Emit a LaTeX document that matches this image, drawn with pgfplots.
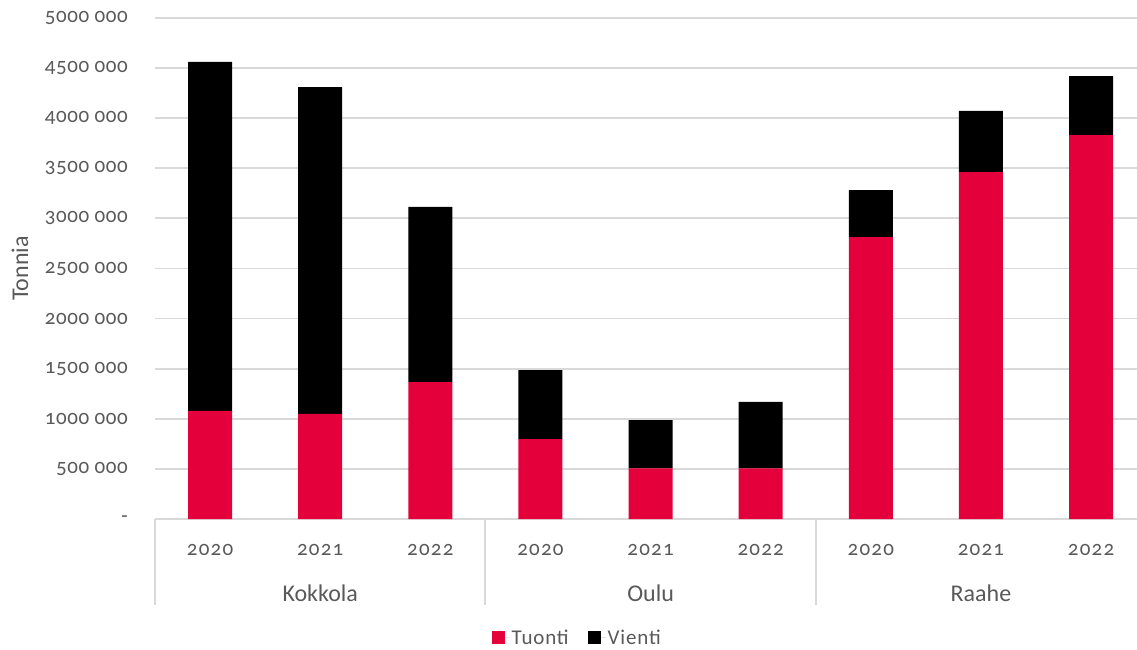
\documentclass[border=0pt]{standalone}
\usepackage{fontspec}
\setmainfont{Carlito}[Numbers=OldStyle]
\usepackage{pgfplots}
\pgfplotsset{compat=1.18}
\definecolor{redbar}{HTML}{E4003A}
\definecolor{txt}{HTML}{595959}
\definecolor{gridgray}{HTML}{D9D9D9}
\begin{document}
\begin{tikzpicture}
\path[use as bounding box] (-155pt,-131pt) rectangle (982pt,519pt);
\begin{axis}[
  at={(0,0)}, anchor=south west,
  scale only axis,
  width=982pt, height=501pt,
  ybar stacked, bar width=44pt,
  xmin=-0.5, xmax=8.417,
  ymin=0, ymax=5000000,
  axis line style={draw=none},
  major tick length=0pt,
  xmajorgrids=false,
  ymajorgrids=true,
  y grid style={draw=gridgray, line width=1.8pt},
  scaled y ticks=false,
  ytick={0,500000,1000000,1500000,2000000,2500000,3000000,3500000,4000000,4500000,5000000},
  yticklabels={-,500 000,1000 000,1500 000,2000 000,2500 000,3000 000,3500 000,4000 000,4500 000,5000 000},
  yticklabel style={anchor=east, inner sep=0pt, xshift=-27pt, font=\fontsize{21}{25}\selectfont\addfontfeatures{LetterSpace=3}, text=txt},
  xtick={0,...,8},
  xticklabels={2020,2021,2022,2020,2021,2022,2020,2021,2022},
  xticklabel style={anchor=center, inner sep=0pt, yshift=-34pt, font=\fontsize{21}{25}\selectfont\addfontfeatures{LetterSpace=6}, text=txt, text height=1.2ex, text depth=0pt},
  clip=false,
  legend columns=2,
  legend style={draw=none, at={(0.4300,-0.2375)}, anchor=center, font=\fontsize{21}{25}\selectfont\addfontfeatures{LetterSpace=4}, text=txt,
    /tikz/every even column/.append style={column sep=17pt}},
  legend image code/.code={\fill[#1] (0pt,-6.5pt) rectangle (13pt,6.5pt); \path (0pt,0pt) -- (18pt,0pt);},
]
\addplot[fill=redbar, draw=none] coordinates {(0,1078000) (1,1048000) (2,1367000) (3,798000) (4,505000) (5,505000) (6,2814000) (7,3463000) (8,3832000)};
\addlegendentry{Tuonti}
\addplot[fill=black, draw=none] coordinates {(0,3483000) (1,3263000) (2,1747000) (3,689000) (4,483000) (5,663000) (6,469000) (7,609000) (8,589000)};
\addlegendentry{Vienti}
\draw[gridgray, line width=1.8pt] (axis cs:-0.5,0) -- ([yshift=-86pt]axis cs:-0.5,0);
\draw[gridgray, line width=1.8pt] (axis cs:2.5,0) -- ([yshift=-86pt]axis cs:2.5,0);
\draw[gridgray, line width=1.8pt] (axis cs:5.5,0) -- ([yshift=-86pt]axis cs:5.5,0);
\node[font=\fontsize{24}{28}\selectfont, text=txt] at ([yshift=-74pt]axis cs:1,0) {Kokkola};
\node[font=\fontsize{24}{28}\selectfont, text=txt] at ([yshift=-74pt]axis cs:4,0) {Oulu};
\node[font=\fontsize{24}{28}\selectfont, text=txt] at ([yshift=-74pt]axis cs:7,0) {Raahe};
\node[rotate=90, font=\fontsize{24}{28}\selectfont, text=txt] at ([xshift=-135pt]axis cs:-0.5,2500000) {Tonnia};
\end{axis}
\end{tikzpicture}
\end{document}
